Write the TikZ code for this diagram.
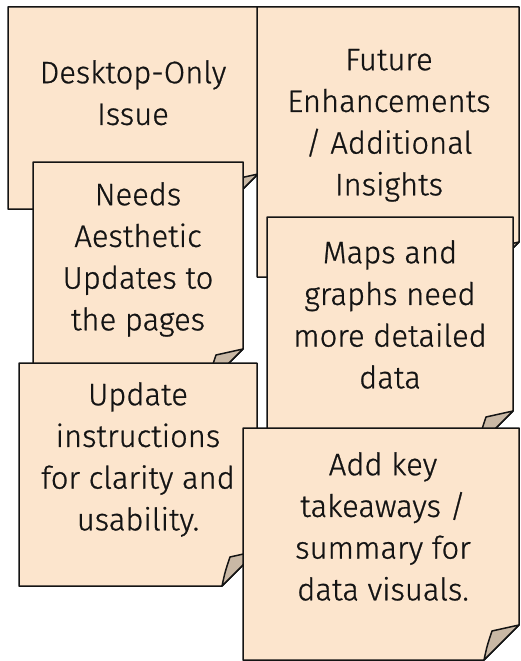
\documentclass[tikz,border=0pt]{standalone}
\usepackage{fontspec}
\setmainfont{Fira Sans Light}[RawFeature={embolden=0.8}]
\definecolor{notefill}{HTML}{FCE5CD}
\definecolor{foldfill}{HTML}{C9B8A5}
\definecolor{noteline}{HTML}{141414}
\tikzset{
  notebody/.style={fill=notefill, draw=noteline, line width=1.5pt, line join=round},
  notefold/.style={fill=foldfill, draw=noteline, line width=1.5pt, line join=round},
  notetext/.style={anchor=north, inner sep=0pt, align=center, text=noteline,
    font={\fontsize{31}{41.7}\selectfont}}
}
\newcommand{\stickynote}[4]{%
  \filldraw[notebody] (#1,#2) -- (#3,#2) -- (#3,{#4-35}) -- ({#3-35},#4) -- (#1,#4) -- cycle;
  \filldraw[notefold] ({#3-35},#4) .. controls ({#3-32},{#4-14}) .. ({#3-27},{#4-29}) -- (#3,{#4-35}) -- cycle;
}
\begin{document}
\begin{tikzpicture}[x=1pt,y=-1pt]
\useasboundingbox (0,0) rectangle (520,661);
% note 1
\stickynote{8}{7}{258}{209}
\node[notetext] (t1) at (133,{83-25}) {\rule{0pt}{25pt}Desktop-Only\\Issue};
% note 2
\stickynote{257}{7}{519}{277}
\node[notetext] (t2) at (389,{70-25}) {\rule{0pt}{25pt}Future\\Enhancements\\/ Additional\\Insights};
% note 3
\stickynote{33}{162}{243}{384}
\node[notetext] (t3) at (138,{205-25}) {\rule{0pt}{25pt}Needs\\Aesthetic\\Updates to\\the pages};
% note 4
\stickynote{267}{217}{513}{446}
\node[notetext] (t4) at (390,{263-25}) {\rule{0pt}{25pt}Maps and\\graphs need\\more detailed\\data};
% note 5
\stickynote{19}{363}{257}{586}
\node[notetext] (t5) at (138,{405-25}) {\rule{0pt}{25pt}Update\\instructions\\for clarity and\\usability.};
% note 6
\stickynote{243}{428}{519}{660}
\node[notetext] (t6) at (383,{475-25}) {\rule{0pt}{25pt}Add key\\takeaways /\\summary for\\data visuals.};
\end{tikzpicture}
\end{document}
